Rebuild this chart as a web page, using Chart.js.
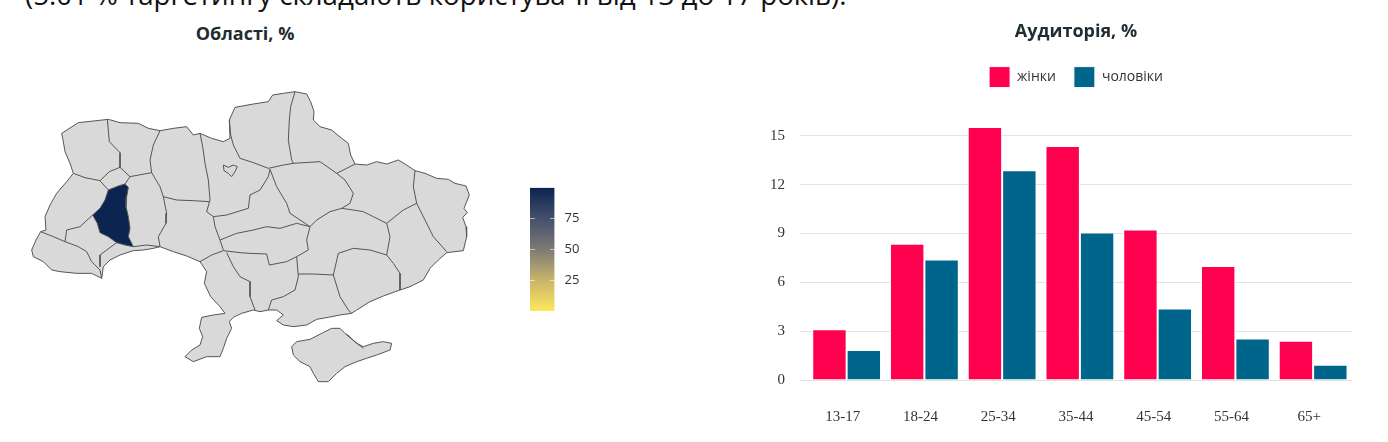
<!DOCTYPE html>
<html>
<head>
<meta charset="utf-8">
<script src="https://cdn.jsdelivr.net/npm/chart.js@4.4.0/dist/chart.umd.min.js"></script>
<style>
  body { margin: 0; width: 1388px; height: 442px; overflow: hidden; background: #fff; position: relative; font-family: "Open Sans", sans-serif; }
  #note { position: absolute; left: 25px; top: -20px; font-size: 27.7px; line-height: 28px; white-space: nowrap; color: #111; }
  #mapTitle { position: absolute; left: 145px; width: 200px; top: 21px; text-align: center; font-weight: bold; font-size: 18px; color: #1f2d33; }
  canvas { position: absolute; }
  #map { left: 20px; top: 80px; }
  #scale { left: 500px; top: 170px; }
  #bars { left: 740px; top: 0; }
</style>
</head>
<body>
<div id="note">(5.01 % таргетингу складають користувачі від 13 до 17 років).</div>
<div id="mapTitle">Області, %</div>
<canvas id="map" width="480" height="310"></canvas>
<canvas id="scale" width="100" height="160"></canvas>
<canvas id="bars" width="648" height="454"></canvas>
<script>
// audience by age group, % of targeting
const ageGroups = ['13-17', '18-24', '25-34', '35-44', '45-54', '55-64', '65+'];
const women = [3.12, 8.37, 15.54, 14.38, 9.24, 7.0, 2.41];
const men = [1.84, 7.41, 12.88, 9.06, 4.39, 2.55, 0.94];
const audienceTicks = [0, 3, 6, 9, 12, 15];

// regions: only Ternopil oblast has a value
const regionValue = 100;
const colorbarTicks = [25, 50, 75];

// map geometry in map units (x to the east, y to the south)
const ukraineOutline = [
  [125,160],[175,128],[265,118],[300,128],[355,130],[385,145],[420,152],[460,145],[500,140],[520,165],[540,160],
  [575,175],[610,185],[630,175],[628,120],[645,82],[700,72],[745,65],[758,45],[790,40],[825,35],[860,42],[872,65],
  [882,95],[880,120],[900,140],[935,150],[965,175],[985,190],[992,225],[1005,252],[1040,255],[1070,245],[1100,252],
  [1135,240],[1160,255],[1185,272],[1215,280],[1250,295],[1285,298],[1305,310],[1338,318],[1348,345],[1332,385],
  [1342,398],[1328,412],[1338,440],[1340,470],[1330,512],[1280,518],[1255,540],[1230,565],[1210,600],[1170,620],
  [1140,630],[1090,648],[1050,665],[1010,690],[995,700],[960,705],[925,712],[890,718],[860,735],[820,740],[790,735],
  [770,722],[790,705],[770,690],[745,690],[720,695],[700,690],[665,700],[640,712],[628,725],[635,745],[620,775],
  [610,805],[600,830],[560,830],[520,845],[495,830],[515,810],[540,795],[548,770],[538,745],[545,712],[580,705],
  [615,700],[600,680],[572,650],[553,610],[560,575],[540,545],[500,528],[460,515],[420,500],[400,505],[370,510],
  [340,512],[300,525],[270,540],[250,560],[245,595],[215,580],[170,580],[120,575],[95,570],[70,545],[40,530],
  [35,510],[48,480],[62,455],[78,450],[75,410],[90,375],[110,340],[140,305],[160,280],[150,250],[135,215],[130,185],
  [125,160]
];
const crimea = [
  [815,800],[830,785],[870,778],[905,760],[935,745],[960,745],[975,760],[1010,790],[1030,800],[1060,790],[1090,785],
  [1115,790],[1110,810],[1070,825],[1040,835],[1010,845],[975,860],[950,880],[925,905],[895,905],[880,880],[870,860],
  [840,845],[820,825],[815,800]
];
const kyivCity = [[610,255],[625,262],[640,255],[652,260],[645,275],[635,290],[625,280],[612,272],[610,255]];
const ternopil = [
  [265,330],[295,318],[315,312],[325,322],[320,350],[318,380],[325,410],[330,445],[325,470],[340,500],[315,495],
  [290,488],[265,470],[240,458],[232,430],[218,405],[240,385],[255,360],[265,330]
];
const innerBorders = [
  [[262,118],[268,185],[300,218],[300,262]],
  [[160,280],[195,293],[240,302],[268,275],[300,262]],
  [[240,302],[265,330]],
  [[420,152],[400,195],[390,240],[395,278]],
  [[300,262],[330,290],[395,278]],
  [[315,312],[330,290]],
  [[395,278],[420,320],[430,350],[440,400],[438,430],[415,470],[420,500]],
  [[62,455],[100,470],[135,485],[175,500],[200,515],[215,545],[240,570],[245,595]],
  [[135,485],[140,450],[180,440],[218,405]],
  [[290,488],[260,510],[240,525],[240,560]],
  [[340,500],[380,495],[420,500]],
  [[540,160],[548,200],[555,250],[565,300],[570,360],[560,395],[580,410]],
  [[430,350],[470,360],[520,362],[568,365]],
  [[580,410],[585,440],[600,480],[610,510]],
  [[540,545],[575,525],[610,512]],
  [[628,120],[632,165],[640,195],[660,235],[700,248],[745,265],[790,255],[820,250]],
  [[580,410],[620,405],[685,385],[690,345],[720,330],[745,290],[750,268]],
  [[750,268],[770,320],[800,370],[810,400],[840,420],[870,440]],
  [[600,480],[650,460],[700,450],[740,440],[780,445],[830,430],[870,440]],
  [[870,440],[860,480],[865,510],[830,530]],
  [[610,512],[660,518],[690,520],[740,522],[748,555],[800,545],[830,530]],
  [[620,518],[640,560],[660,590],[690,605],[690,650],[705,690]],
  [[830,530],[835,590],[825,630],[790,650],[755,660],[745,690]],
  [[835,582],[880,582],[940,585]],
  [[940,585],[960,650],[985,690],[995,700]],
  [[940,585],[955,520],[1000,505],[1050,510],[1100,525]],
  [[1100,430],[1110,470],[1100,525],[1120,550],[1140,580],[1140,630]],
  [[870,440],[890,420],[930,395],[965,385],[1000,390]],
  [[950,280],[975,300],[1000,340],[990,370],[965,385]],
  [[820,250],[900,245],[950,280],[980,265],[1005,252]],
  [[825,35],[812,80],[808,120],[805,180],[815,240],[820,250]],
  [[1000,390],[1030,395],[1060,410],[1100,430],[1150,390],[1190,370]],
  [[1185,272],[1180,320],[1190,370],[1215,420],[1240,470],[1280,515]],
  [[980,762],[1005,785],[1030,805]]
];

const toPoints = arr => arr.map(([x, y]) => ({ x, y }));

// cividis-like scale, low = yellow, high = navy
const colorStops = ['#fde75a', '#c9b56c', '#7d7a74', '#44506c', '#0c2450'];
const valueColor = colorStops[colorStops.length - 1];

const shape = (pts, fillColor, order) => ({
  data: toPoints(pts), showLine: true, fill: fillColor ? 'shape' : false,
  backgroundColor: fillColor || 'transparent', borderColor: '#555', borderWidth: 1,
  pointRadius: 0, tension: 0, order
});

new Chart(document.getElementById('map'), {
  type: 'scatter',
  data: {
    datasets: [
      shape(ternopil, valueColor, 1),
      shape(kyivCity, null, 2),
      ...innerBorders.map(b => shape(b, null, 3)),
      shape(crimea, '#d9d9d9', 4),
      shape(ukraineOutline, '#d9d9d9', 5)
    ]
  },
  options: {
    responsive: false,
    animation: false,
    events: [],
    layout: { padding: 0 },
    plugins: { legend: { display: false }, tooltip: { enabled: false } },
    scales: {
      x: { type: 'linear', min: 0, max: 1440, display: false },
      y: { type: 'linear', min: 0, max: 930, reverse: true, display: false }
    }
  }
});

// colour bar
new Chart(document.getElementById('scale'), {
  type: 'bar',
  data: {
    labels: [''],
    datasets: [{
      data: [[0, regionValue]],
      backgroundColor: ctx => {
        const area = ctx.chart.chartArea;
        if (!area) return colorStops[2];
        const g = ctx.chart.ctx.createLinearGradient(0, area.bottom, 0, area.top);
        colorStops.forEach((c, i) => g.addColorStop(i / (colorStops.length - 1), c));
        return g;
      },
      borderWidth: 0,
      categoryPercentage: 1,
      barPercentage: 1
    }]
  },
  options: {
    responsive: false,
    animation: false,
    events: [],
    layout: { padding: { top: 15, bottom: 19, left: 30, right: 21 } },
    plugins: { legend: { display: false }, tooltip: { enabled: false } },
    scales: {
      x: { display: false },
      y: {
        position: 'right', min: 0, max: 100,
        afterBuildTicks: axis => { axis.ticks = colorbarTicks.map(v => ({ value: v })); },
        grid: { z: 1, color: 'rgba(255,255,255,0.55)', drawTicks: false },
        border: { display: false, dash: [5, 15] },
        ticks: { padding: 10, color: '#333', font: { family: 'Open Sans', size: 13 } }
      }
    }
  }
});

// audience chart: bars sit on a numeric x axis (0..6 = age group index)
const byGroup = values => values.map((v, i) => ({ x: i, y: v }));

new Chart(document.getElementById('bars'), {
  type: 'bar',
  data: {
    datasets: [
      { label: 'жінки', data: byGroup(women), backgroundColor: '#ff004f', borderColor: '#fff', borderWidth: 1, categoryPercentage: 0.885, barPercentage: 1 },
      { label: 'чоловіки', data: byGroup(men), backgroundColor: '#00658a', borderColor: '#fff', borderWidth: 1, categoryPercentage: 0.885, barPercentage: 1 }
    ]
  },
  options: {
    responsive: false,
    animation: false,
    events: [],
    layout: { padding: { left: 15, right: 36, bottom: 0 } },
    plugins: {
      title: {
        display: true, fullSize: false, text: 'Аудиторія, %', color: '#1f2d33',
        font: { family: 'Open Sans', size: 18, weight: 'bold' },
        padding: { top: 21, bottom: 6 }
      },
      legend: {
        fullSize: false,
        labels: {
          boxWidth: 21, boxHeight: 21, padding: 18, color: '#333',
          font: { family: 'Open Sans', size: 14 }
        }
      },
      tooltip: { enabled: false }
    },
    scales: {
      x: {
        type: 'linear', min: -0.6, max: 6.5, offset: false,
        afterBuildTicks: axis => { axis.ticks = ageGroups.map((g, i) => ({ value: i })); },
        grid: { display: false, drawTicks: false },
        border: { display: false },
        ticks: {
          padding: 28, labelOffset: -4, color: '#333', maxRotation: 0, autoSkip: false,
          font: { family: 'Liberation Serif', size: 15 },
          callback: v => ageGroups[v]
        }
      },
      y: {
        min: 0, max: 17.35,
        afterBuildTicks: axis => { axis.ticks = audienceTicks.map(v => ({ value: v })); },
        grid: { color: '#e2e2e2', drawTicks: false },
        border: { display: false },
        ticks: { padding: 15, color: '#333', font: { family: 'Liberation Serif', size: 15 } }
      }
    }
  }
});
</script>
</body>
</html>
